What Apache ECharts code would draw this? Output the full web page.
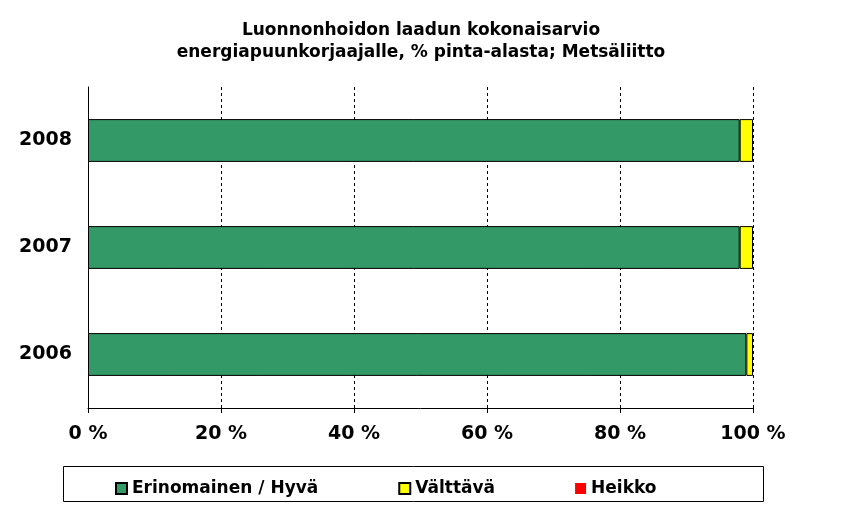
<!DOCTYPE html><html><head><meta charset="utf-8"><script src="https://cdn.jsdelivr.net/npm/echarts@6/dist/echarts.min.js"></script></head><body style="margin:0"><div id="c" style="width:842px;height:523px"></div><script>
const years=['2006','2007','2008'];
const erinomainen=[99,98,98];
const valttava=[1,2,2];
const heikko=[0,0,0];
const ticks=['0 %','20 %','40 %','60 %','80 %','100 %'];
const ch=echarts.init(document.getElementById('c'));
const f='DejaVu Sans';
const bs={borderColor:'#000',borderWidth:1};
ch.setOption({animation:false,
title:{text:'Luonnonhoidon laadun kokonaisarvio\nenergiapuunkorjaajalle, % pinta-alasta; Metsäliitto',left:'center',top:15,textStyle:{fontFamily:f,fontWeight:'bold',fontSize:17,lineHeight:22,color:'#000'}},
grid:{left:88,right:89,top:87,bottom:115},
graphic:[{type:'rect',shape:{x:63.5,y:466.5,width:700,height:35},style:{fill:'none',stroke:'#000',lineWidth:1}}],
xAxis:{type:'value',min:0,max:100,interval:20,axisLine:{show:true,lineStyle:{color:'#000'}},axisTick:{show:true,length:5,lineStyle:{color:'#000'}},
axisLabel:{formatter:v=>ticks[v/20],fontFamily:f,fontWeight:'bold',fontSize:19,color:'#000',margin:17},
splitLine:{lineStyle:{type:[3,3],color:'#000'}}},
yAxis:{type:'category',data:years,axisLine:{lineStyle:{color:'#000'}},axisTick:{length:5,lineStyle:{color:'#000'}},
axisLabel:{fontFamily:f,fontWeight:'bold',fontSize:19,color:'#000',margin:16}},
legend:{top:475,left:110,itemGap:80,itemWidth:11,itemHeight:11,icon:'rect',
textStyle:{fontFamily:f,fontWeight:'bold',fontSize:17,color:'#000'}},
series:[
{name:'Erinomainen / Hyvä',type:'bar',stack:'a',barWidth:'40%',data:erinomainen,itemStyle:Object.assign({color:'#339966'},bs)},
{name:'Välttävä',type:'bar',stack:'a',data:valttava,itemStyle:Object.assign({color:'#ffff00'},bs)},
{name:'Heikko',type:'bar',stack:'a',data:heikko,itemStyle:{color:'#ff0000'}}]});
</script></body></html>
